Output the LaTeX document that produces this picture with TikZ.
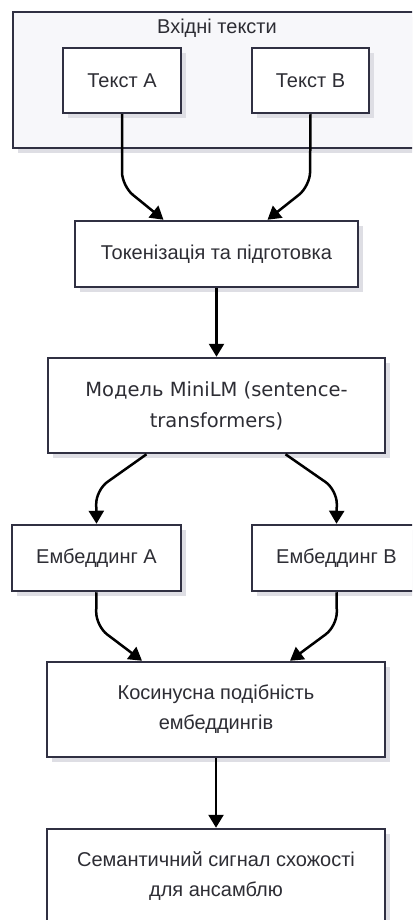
\documentclass[tikz,border=0pt]{standalone}
\usepackage{fontspec}
\setmainfont{Liberation Sans}
\newfontfamily\modelfont{DejaVu Sans}
\usetikzlibrary{arrows.meta,shadows}

\definecolor{edge}{RGB}{48,48,66}
\definecolor{ink}{RGB}{45,45,52}
\definecolor{groupfill}{RGB}{247,247,250}
\definecolor{shade}{RGB}{222,222,228}

\begin{document}
\begin{tikzpicture}[x=1pt,y=-1pt,
  box/.style={draw=edge, line width=2.5pt, fill=white, text=ink, inner sep=0pt,
    align=center, font=\fontsize{20}{30}\selectfont,
    drop shadow={shadow xshift=5pt, shadow yshift=-5pt, fill=shade, opacity=1}},
  group/.style={box, fill=groupfill},
  label/.style={text=ink, inner sep=0pt, font=\fontsize{20}{24}\selectfont},
  link/.style={draw=black, line width=2.5pt, rounded corners=14pt,
    -{Triangle[width=15pt,length=13pt]}}]

\useasboundingbox (0,0) rectangle (412,920);
\clip (0,0) rectangle (412,920);

% input group
\node[group, minimum width=408, minimum height=136] (inputs) at (217,80) {};
\node[label] (inputsTitle) at (217,28) {Вхідні тексти};
\node[box, minimum width=118, minimum height=65] (textA) at (122,80.5) {Текст A};
\node[box, minimum width=117, minimum height=65] (textB) at (310.5,80.5) {Текст B};

% processing chain
\node[box, minimum width=283, minimum height=66] (tok) at (216.5,254) {Токенізація та підготовка};
\node[box, minimum width=337, minimum height=95, font=\modelfont\fontsize{19.5}{31}\selectfont] (model) at (216.5,405.5) {Модель MiniLM (sentence-\\transformers)};
\node[box, minimum width=169, minimum height=66] (embA) at (96.5,558) {Ембеддинг A};
\node[box, minimum width=169, minimum height=66] (embB) at (336.5,558) {Ембеддинг B};
\node[box, minimum width=338, minimum height=95] (cos) at (216,709.5) {Косинусна подібність\\ембеддингів};
\node[box, minimum width=338, minimum height=95] (out) at (216,876.5) {Семантичний сигнал схожості\\для ансамблю};

% bend points
\coordinate (bA1) at (122,186);
\coordinate (bB1) at (310,186);
\coordinate (bA2) at (96,490);
\coordinate (bB2) at (337,490);
\coordinate (bA3) at (96,626);
\coordinate (bB3) at (337,626);

% connectors
\draw[link] (textA.south) -- (bA1) -- ([xshift=-53pt]tok.north);
\draw[link] (textB.south) -- (bB1) -- ([xshift=51pt]tok.north);
\draw[link] (tok.south) -- (model.north);
\draw[link] ([xshift=-70pt]model.south) -- (bA2) -- (embA.north);
\draw[link] ([xshift=69pt]model.south) -- (bB2) -- (embB.north);
\draw[link] (embA.south) -- (bA3) -- ([xshift=-74pt]cos.north);
\draw[link] (embB.south) -- (bB3) -- ([xshift=74pt]cos.north);
\draw[link] (cos.south) -- (out.north);
\end{tikzpicture}
\end{document}
